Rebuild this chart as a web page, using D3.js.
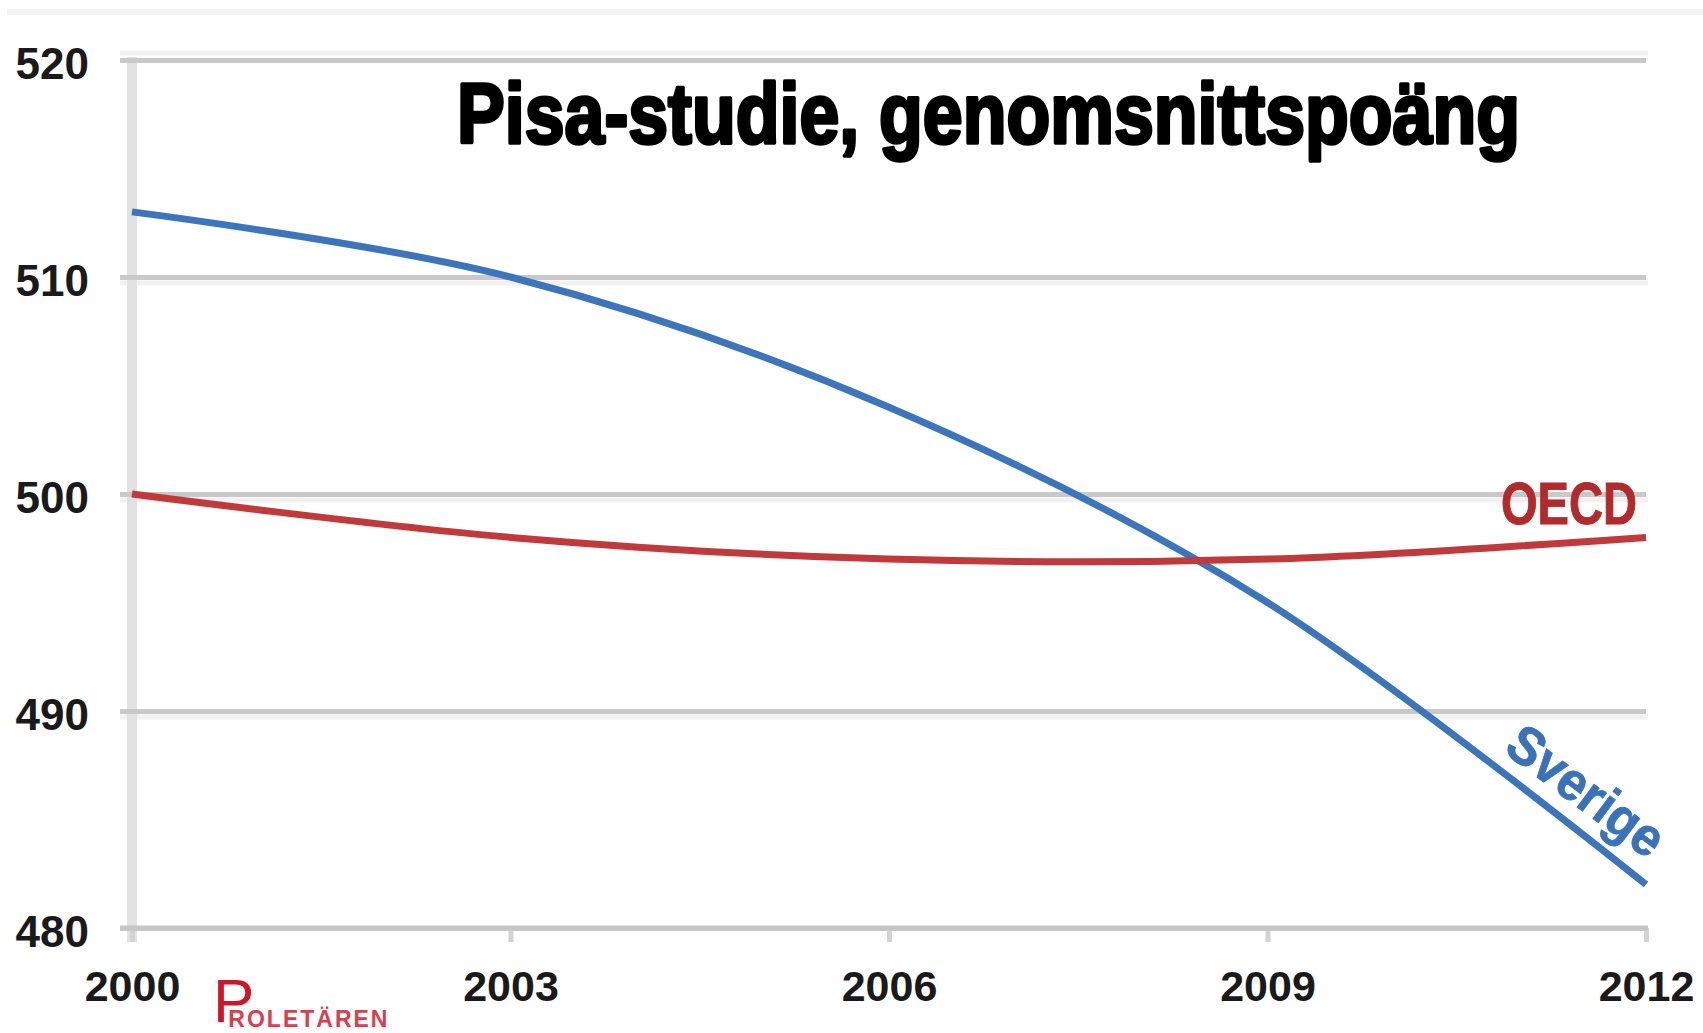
<!DOCTYPE html>
<html lang="sv">
<head>
<meta charset="utf-8">
<title>Pisa-studie, genomsnittspoäng</title>
<script src="https://cdn.jsdelivr.net/npm/d3@7/dist/d3.min.js"></script>
<style>
  html, body { margin: 0; padding: 0; background: #ffffff; }
  svg { display: block; }
</style>
</head>
<body>
<svg id="chart" width="1703" height="1033"></svg>
<script>
// PISA mean scores, Sweden vs. OECD average
const years = [2000, 2003, 2006, 2009, 2012];
const sverige = [513, 510, 504, 495, 482];
const oecd = [500, 498, 497, 497, 498];
const yTicks = [480, 490, 500, 510, 520];
const titleText = "Pisa-studie, genomsnittspoäng";
const seriesNames = ["Sverige", "OECD"];

(function () {
  const W = 1703;
  const plotLeft = 132, plotRight = 1646, plotTop = 60, plotBottom = 928;

  const svg = d3.select("#chart");

  const x = d3.scaleLinear().domain([2000, 2012]).range([plotLeft, plotRight]);
  const y = d3.scaleLinear().domain([480, 520]).range([plotBottom, plotTop]);

  const FONT = "'Liberation Sans', Arial, 'DejaVu Sans', sans-serif";

  // squeeze a text horizontally to a target width (condensed look)
  function condense(sel, width) {
    const natural = sel.node().getComputedTextLength();
    return natural > 0 ? width / natural : 1;
  }

  // faint frame strip along the top edge
  svg.append("rect")
    .attr("x", 7).attr("y", 9).attr("width", W - 7).attr("height", 6)
    .attr("fill", "#f3f3f3");

  // soft shadow bands next to the gridlines
  const shadow = svg.append("g");
  yTicks.forEach(v => {
    if (v === 480) return;
    const off = v === 520 ? -7 : 6;
    shadow.append("line")
      .attr("x1", plotLeft - 12).attr("x2", plotRight + 2)
      .attr("y1", y(v) + off).attr("y2", y(v) + off)
      .attr("stroke", "#f1f1f1").attr("stroke-width", 5);
  });

  // vertical axis line
  svg.append("line")
    .attr("x1", plotLeft).attr("x2", plotLeft)
    .attr("y1", y(520) - 3).attr("y2", y(480) + 14)
    .attr("stroke", "#e2e2e2").attr("stroke-width", 10);

  // y axis with full-width gridlines
  const yAxis = d3.axisLeft(y)
    .tickValues(yTicks)
    .tickSizeInner(-(plotRight - plotLeft))
    .tickSizeOuter(0)
    .tickPadding(43)
    .tickFormat(d3.format("d"));

  const gy = svg.append("g")
    .attr("transform", `translate(${plotLeft},0)`)
    .call(yAxis);
  gy.select(".domain").remove();
  gy.selectAll(".tick line")
    .attr("x1", -12)
    .attr("stroke", "#c9c9c9")
    .attr("stroke-width", 5);
  gy.selectAll(".tick text")
    .attr("dy", "0.41em")
    .attr("fill", "#1a1a1a")
    .style("font-family", FONT)
    .style("font-weight", "bold")
    .style("font-size", "44px");

  // x axis with short ticks below the baseline
  const xAxis = d3.axisBottom(x)
    .tickValues(years)
    .tickSizeInner(14)
    .tickSizeOuter(0)
    .tickPadding(28)
    .tickFormat(d3.format("d"));

  const gx = svg.append("g")
    .attr("transform", `translate(0,${plotBottom})`)
    .call(xAxis);
  gx.select(".domain").remove();
  gx.selectAll(".tick line")
    .attr("stroke", "#d3d3d3")
    .attr("stroke-width", 5);
  gx.selectAll(".tick text")
    .attr("fill", "#1a1a1a")
    .style("font-family", FONT)
    .style("font-weight", "bold")
    .style("font-size", "43px");

  // redraw the baseline gridline above the ticks
  svg.append("line")
    .attr("x1", plotLeft - 12).attr("x2", plotRight + 2)
    .attr("y1", y(480)).attr("y2", y(480))
    .attr("stroke", "#c6c6c6").attr("stroke-width", 5);

  // smoothed series lines
  const line = d3.line()
    .x((d, i) => x(years[i]))
    .y(d => y(d))
    .curve(d3.curveCardinal.tension(0));

  svg.append("path")
    .datum(sverige)
    .attr("d", line)
    .attr("fill", "none")
    .attr("stroke", "#3d75bd")
    .attr("stroke-width", 7);

  svg.append("path")
    .datum(oecd)
    .attr("d", line)
    .attr("fill", "none")
    .attr("stroke", "#c03a3c")
    .attr("stroke-width", 7);

  // title, condensed to its box
  const title = svg.append("text")
    .attr("x", 0).attr("y", 0)
    .attr("fill", "#000")
    .attr("stroke", "#000")
    .attr("stroke-width", 3.5)
    .attr("stroke-linejoin", "round")
    .style("font-family", FONT)
    .style("font-weight", "bold")
    .style("font-size", "85px")
    .text(titleText);
  title.attr("transform", `translate(457,143) scale(${condense(title, 1063)},1)`);

  // series label: OECD, above the line end
  const oecdLabel = svg.append("text")
    .attr("x", 0).attr("y", 0)
    .attr("fill", "#b22a2c")
    .attr("stroke", "#b22a2c")
    .attr("stroke-width", 1)
    .style("font-family", FONT)
    .style("font-weight", "bold")
    .style("font-size", "60px")
    .text(seriesNames[1]);
  oecdLabel.attr("transform",
    `translate(1501,${y(oecd[4]) - 13}) scale(${condense(oecdLabel, 136)},1)`);

  // series label: Sverige, set along the last segment
  const p0 = [x(years[3]), y(sverige[3])];
  const p1 = [x(years[4]), y(sverige[4])];
  const ang = Math.atan2(p1[1] - p0[1], p1[0] - p0[0]) * 180 / Math.PI;
  const t = 0.78;
  const ax = p0[0] + t * (p1[0] - p0[0]);
  const ay = p0[1] + t * (p1[1] - p0[1]);
  const sveLabel = svg.append("text")
    .attr("x", 0).attr("y", -21)
    .attr("text-anchor", "middle")
    .attr("fill", "#3a72ba")
    .attr("stroke", "#3a72ba")
    .attr("stroke-width", 0.8)
    .style("font-family", FONT)
    .style("font-weight", "bold")
    .style("font-size", "54px")
    .text(seriesNames[0]);
  sveLabel.attr("transform",
    `translate(${ax},${ay}) rotate(${ang}) scale(${condense(sveLabel, 182)},1)`);

  // publisher mark: large initial with the rest tucked under its bowl
  const logo = svg.append("text")
    .attr("x", 213).attr("y", 1022)
    .attr("fill", "#d0142a")
    .style("font-family", FONT);
  logo.append("tspan")
    .style("font-size", "62px")
    .text("P");
  logo.append("tspan")
    .attr("dx", -26)
    .attr("dy", 5)
    .attr("fill", "#d8404f")
    .style("font-size", "23px")
    .style("font-weight", "bold")
    .style("letter-spacing", "2px")
    .text("ROLETÄREN");
})();
</script>
</body>
</html>
